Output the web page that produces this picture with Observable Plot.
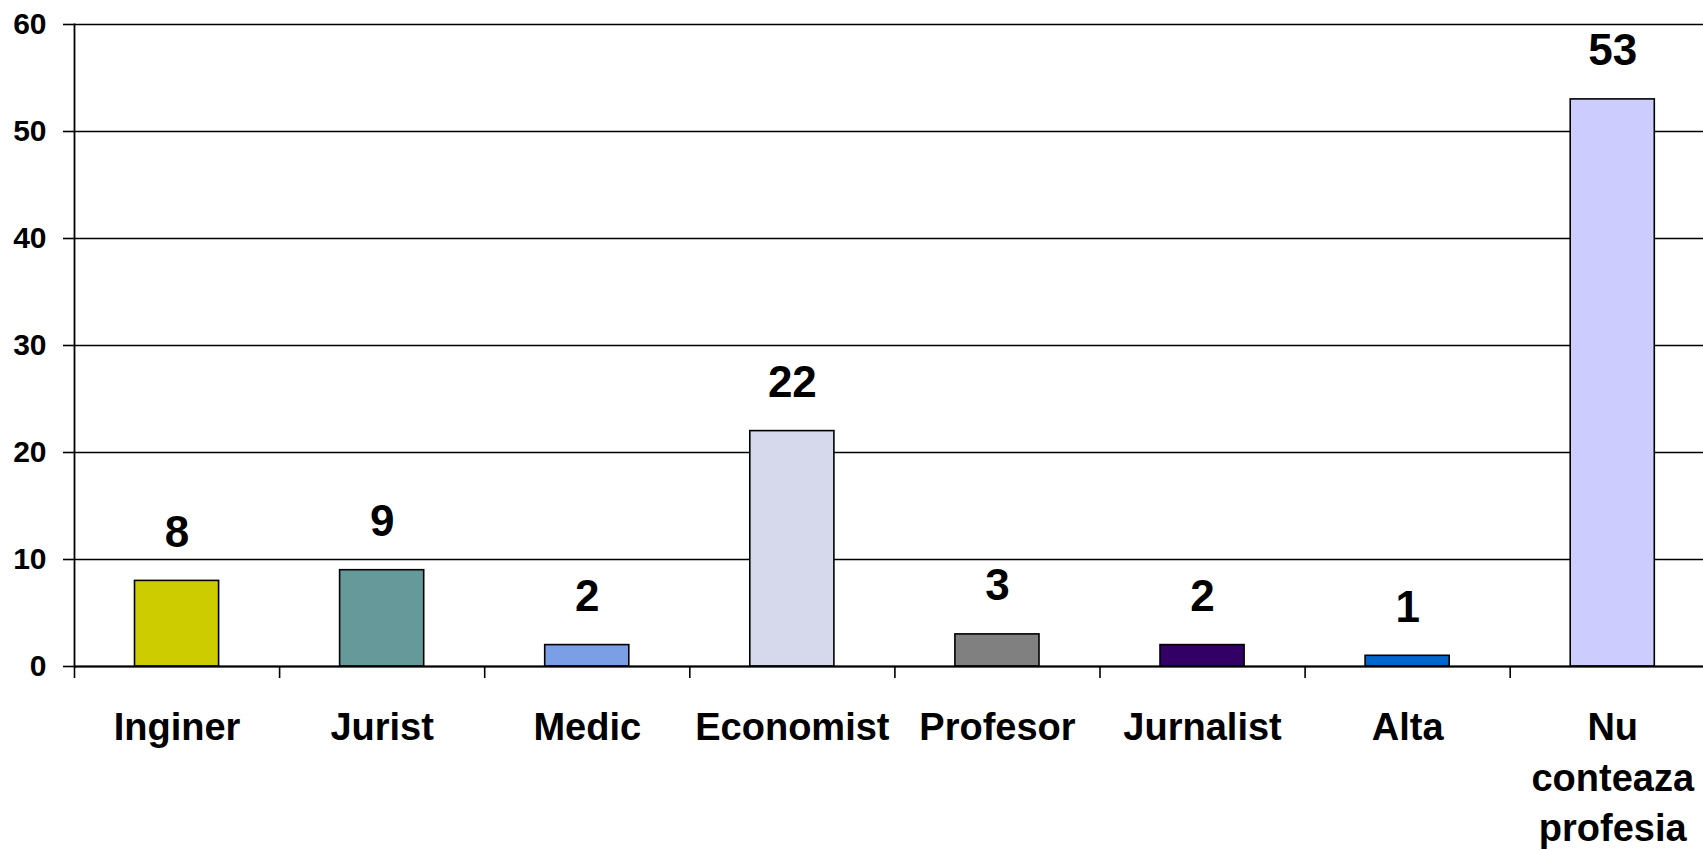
<!DOCTYPE html>
<html>
<head>
<meta charset="utf-8">
<script src="https://cdn.jsdelivr.net/npm/d3@7"></script>
<script src="https://cdn.jsdelivr.net/npm/@observablehq/plot@0.6"></script>
<style>
  html, body { margin: 0; padding: 0; background: #fff; }
  #chart { width: 1703px; height: 850px; overflow: hidden; }
</style>
</head>
<body>
<div id="chart"></div>
<script>
const categories = ["Inginer", "Jurist", "Medic", "Economist", "Profesor", "Jurnalist", "Alta", "Nu conteaza profesia"];
const values = [8, 9, 2, 22, 3, 2, 1, 53];
const yTicks = [0, 10, 20, 30, 40, 50, 60];
const palette = ["#cccc00", "#669999", "#7b9fe6", "#d6d8ec", "#808080", "#330066", "#0066cc", "#ccccff"];

const data = categories.map((c, i) => ({category: c, value: values[i]}));

const W = 1703, H = 850;
const mL = 74, mT = 24, mB = 184;
const step = 205.1;
const xRange = [mL, mL + step * categories.length];

const chart = Plot.plot({
  width: W,
  height: H,
  marginLeft: mL,
  marginRight: 0,
  marginTop: mT,
  marginBottom: mB,
  style: {fontFamily: "'Liberation Sans', Arial, sans-serif", fontWeight: "bold", color: "#000", background: "#fff"},
  x: {domain: categories, range: xRange, paddingInner: 0.59, paddingOuter: 0.295, round: false, label: null},
  y: {domain: [0, 60], ticks: yTicks, label: null},
  color: {domain: categories, range: palette},
  marks: [
    Plot.ruleY(yTicks, {stroke: "#000", strokeWidth: 1.6}),
    Plot.frame({anchor: "left", stroke: "#000", strokeWidth: 1.8}),
    Plot.axisY({ticks: yTicks, tickSize: 11, tickPadding: 17, fontSize: 30, fontWeight: "bold", label: null, stroke: "#000", strokeWidth: 1.6}),
    Plot.axisX({tickSize: 12, text: null, dx: -step / 2, stroke: "#000", strokeWidth: 1.6, label: null}),
    Plot.axisX({tickSize: 0, tickPadding: 37, fontSize: 38, fontWeight: "bold", lineHeight: 1.34, label: null,
      tickFormat: d => d.replace(/ /g, "\n")}),
    Plot.barY(data, {x: "category", y: "value", fill: "category", stroke: "#000", strokeWidth: 1.6}),
    Plot.ruleY([0], {stroke: "#000", strokeWidth: 2}),
    Plot.text(data, {x: "category", y: "value", text: d => String(d.value), dy: -34, lineAnchor: "bottom", fontSize: 44, fontWeight: "bold", fill: "#000"})
  ]
});
document.getElementById("chart").appendChild(chart);
</script>
</body>
</html>
